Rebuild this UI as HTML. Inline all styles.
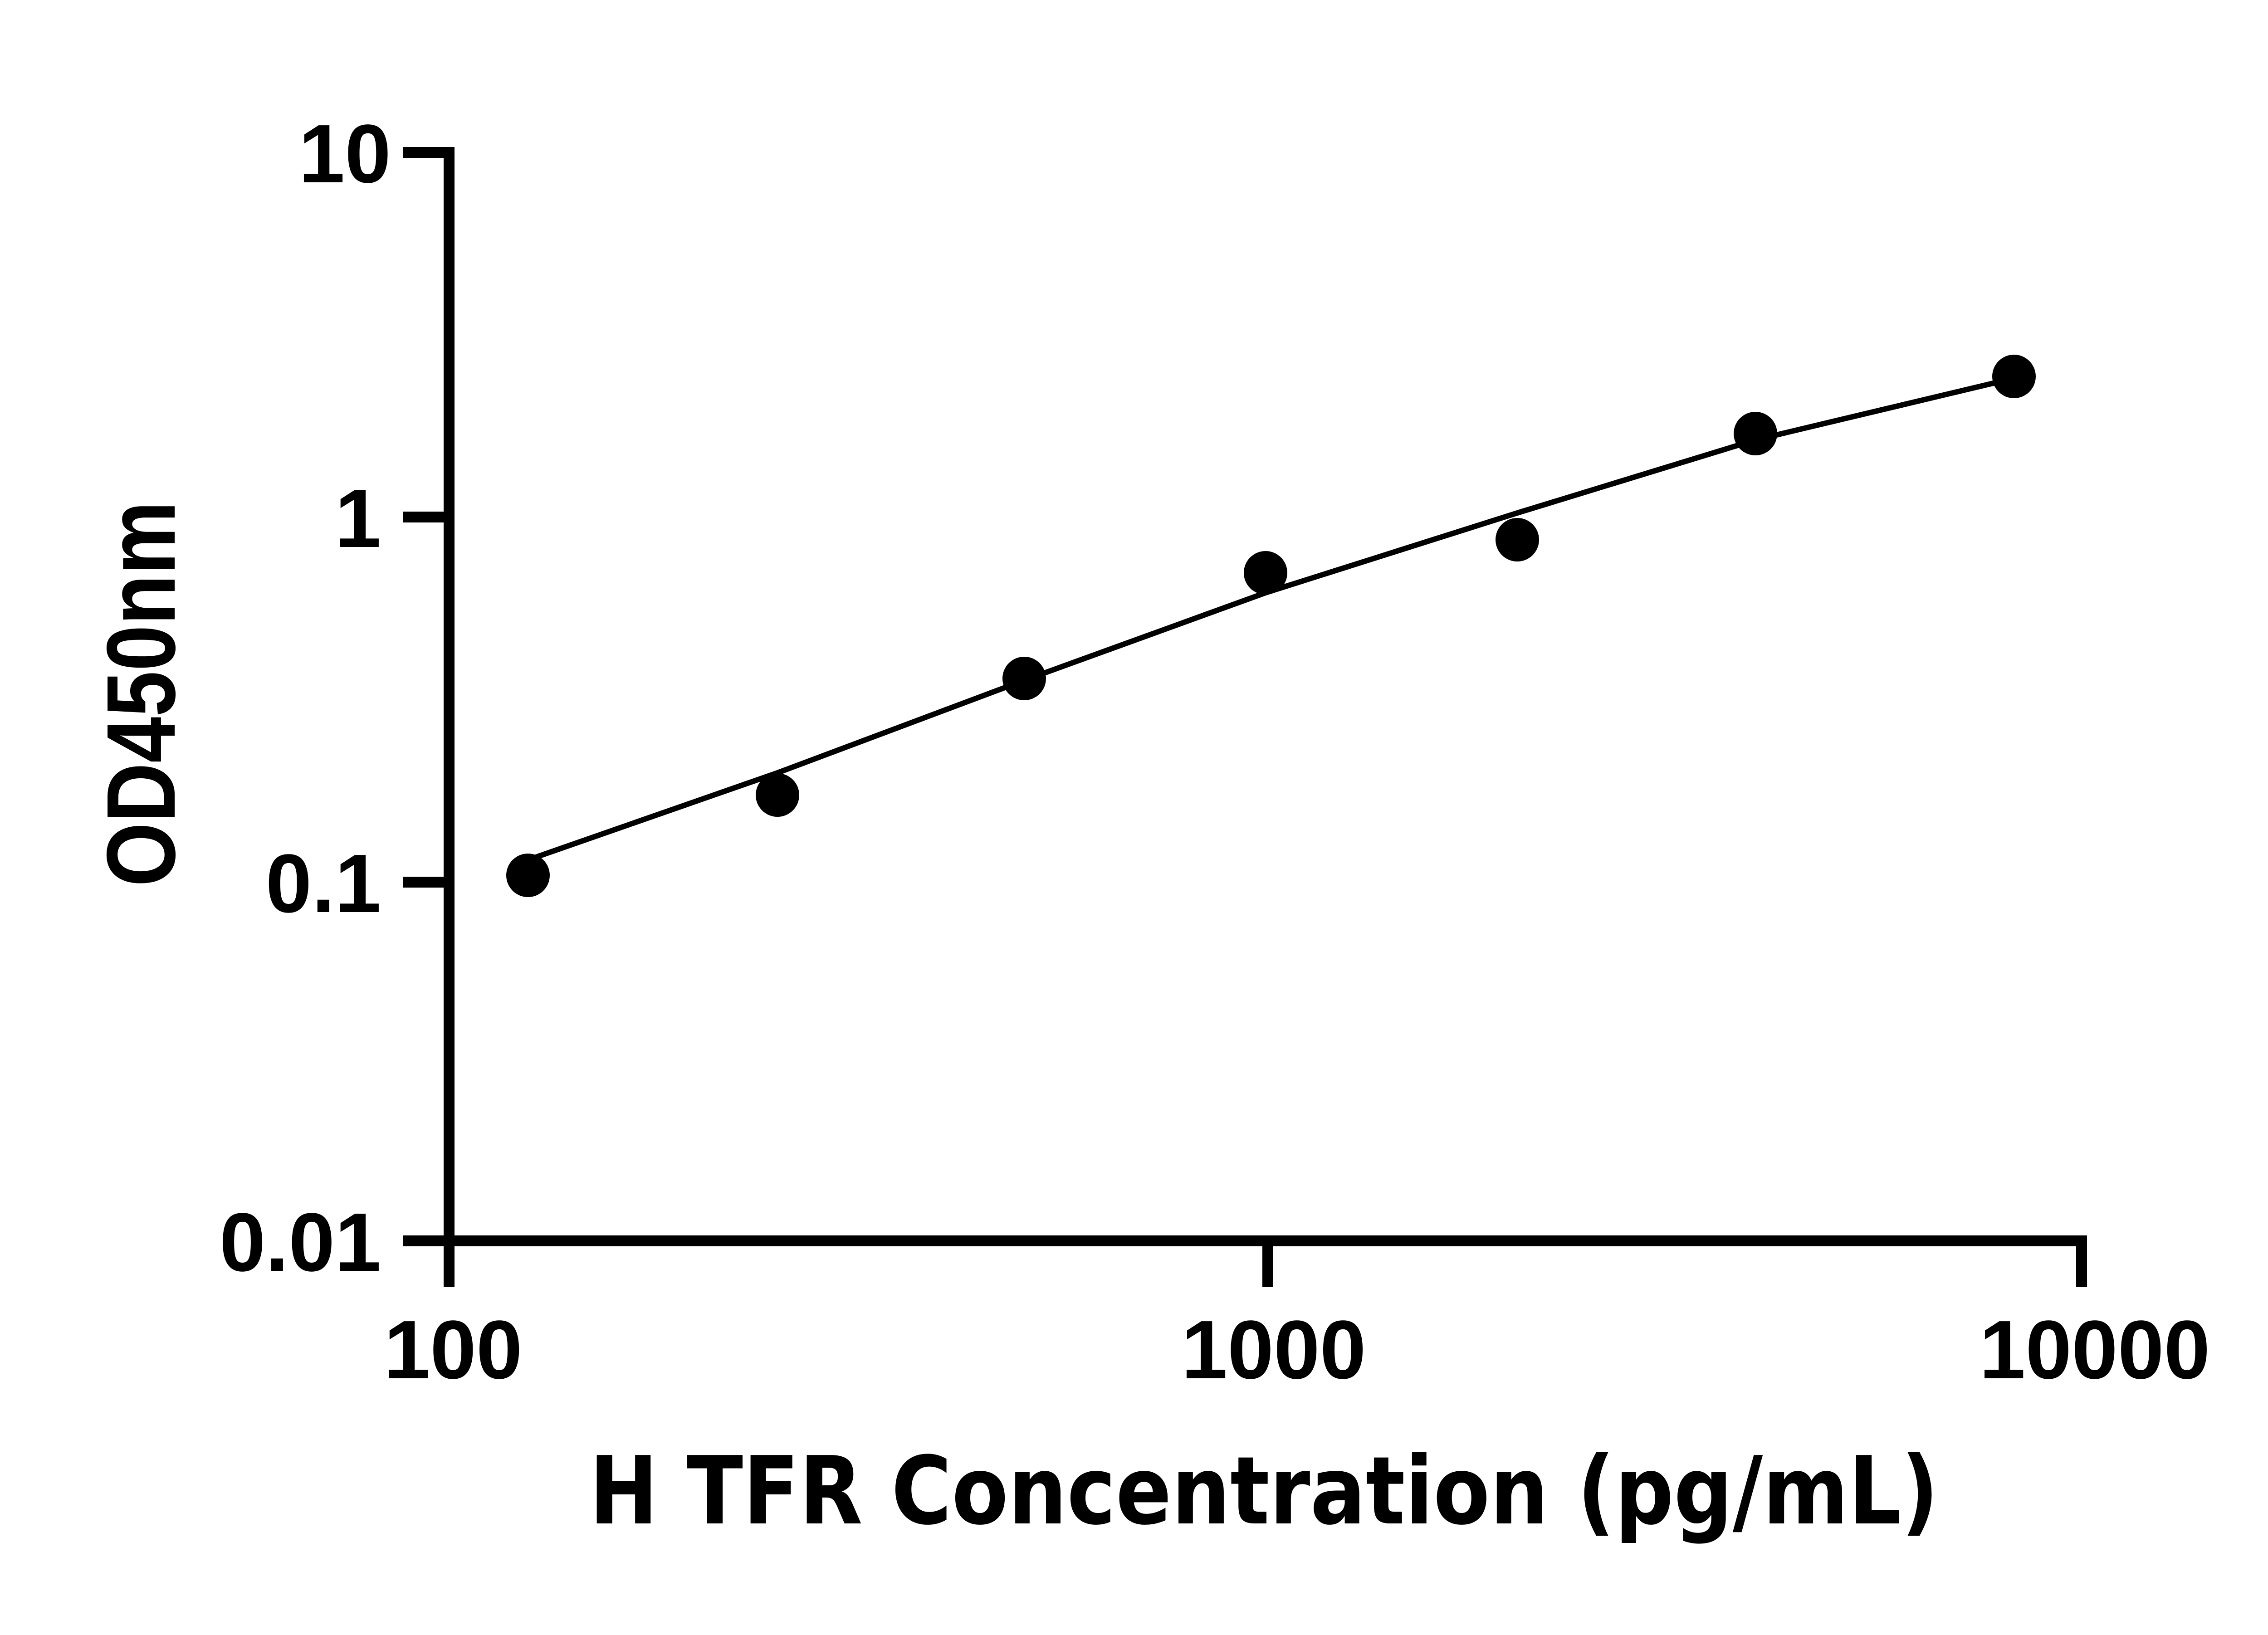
<!DOCTYPE html>
<html><head><style>html,body{margin:0;padding:0;background:#fff}</style></head>
<body>
<svg width="5142" height="3600" viewBox="0 0 5142 3600" xmlns="http://www.w3.org/2000/svg">
<rect width="5142" height="3600" fill="#fff"/>
<g stroke="#000" stroke-width="24" fill="none" stroke-linecap="butt">
<line x1="990" y1="324" x2="990" y2="2838"/>
<line x1="978" y1="2736" x2="4601" y2="2736"/>
<line x1="888" y1="336" x2="1002" y2="336"/>
<line x1="888" y1="1140" x2="990" y2="1140"/>
<line x1="888" y1="1945" x2="990" y2="1945"/>
<line x1="888" y1="2736" x2="990" y2="2736"/>
<line x1="2795" y1="2736" x2="2795" y2="2838"/>
<line x1="4589" y1="2724" x2="4589" y2="2838"/>
</g>
<path d="M1164,1896 L1714,1704 L2258,1500 L2790,1307 L3345,1131 L3870,970 L4440,834" stroke="#000" stroke-width="12" fill="none"/>
<g fill="#000">
<circle cx="1164" cy="1930" r="48"/>
<circle cx="1714" cy="1753" r="48"/>
<circle cx="2258" cy="1496" r="48"/>
<circle cx="2790" cy="1263" r="48"/>
<circle cx="3345" cy="1190" r="48"/>
<circle cx="3870" cy="956" r="48"/>
<circle cx="4440" cy="830" r="48"/>
</g>
<g font-family="Liberation Sans, sans-serif" font-weight="bold" font-size="183" fill="#000">
<text x="862" y="402" text-anchor="end">10</text>
<text x="840" y="1206" text-anchor="end">1</text>
<text x="840" y="2011" text-anchor="end">0.1</text>
<text x="840" y="2802" text-anchor="end">0.01</text>
<text x="999" y="3039" text-anchor="middle">100</text>
<text x="2808" y="3039" text-anchor="middle">1000</text>
<text x="4618" y="3039" text-anchor="middle">10000</text>
</g>
<text x="1299" y="3359" font-family="DejaVu Sans, sans-serif" font-weight="bold" font-size="207" textLength="2975" lengthAdjust="spacingAndGlyphs">H TFR Concentration (pg/mL)</text>
<text transform="translate(385,1530) rotate(-90)" text-anchor="middle" font-family="Liberation Sans, sans-serif" font-weight="bold" font-size="215" textLength="850" lengthAdjust="spacingAndGlyphs">OD450nm</text>
</svg>
</body></html>
